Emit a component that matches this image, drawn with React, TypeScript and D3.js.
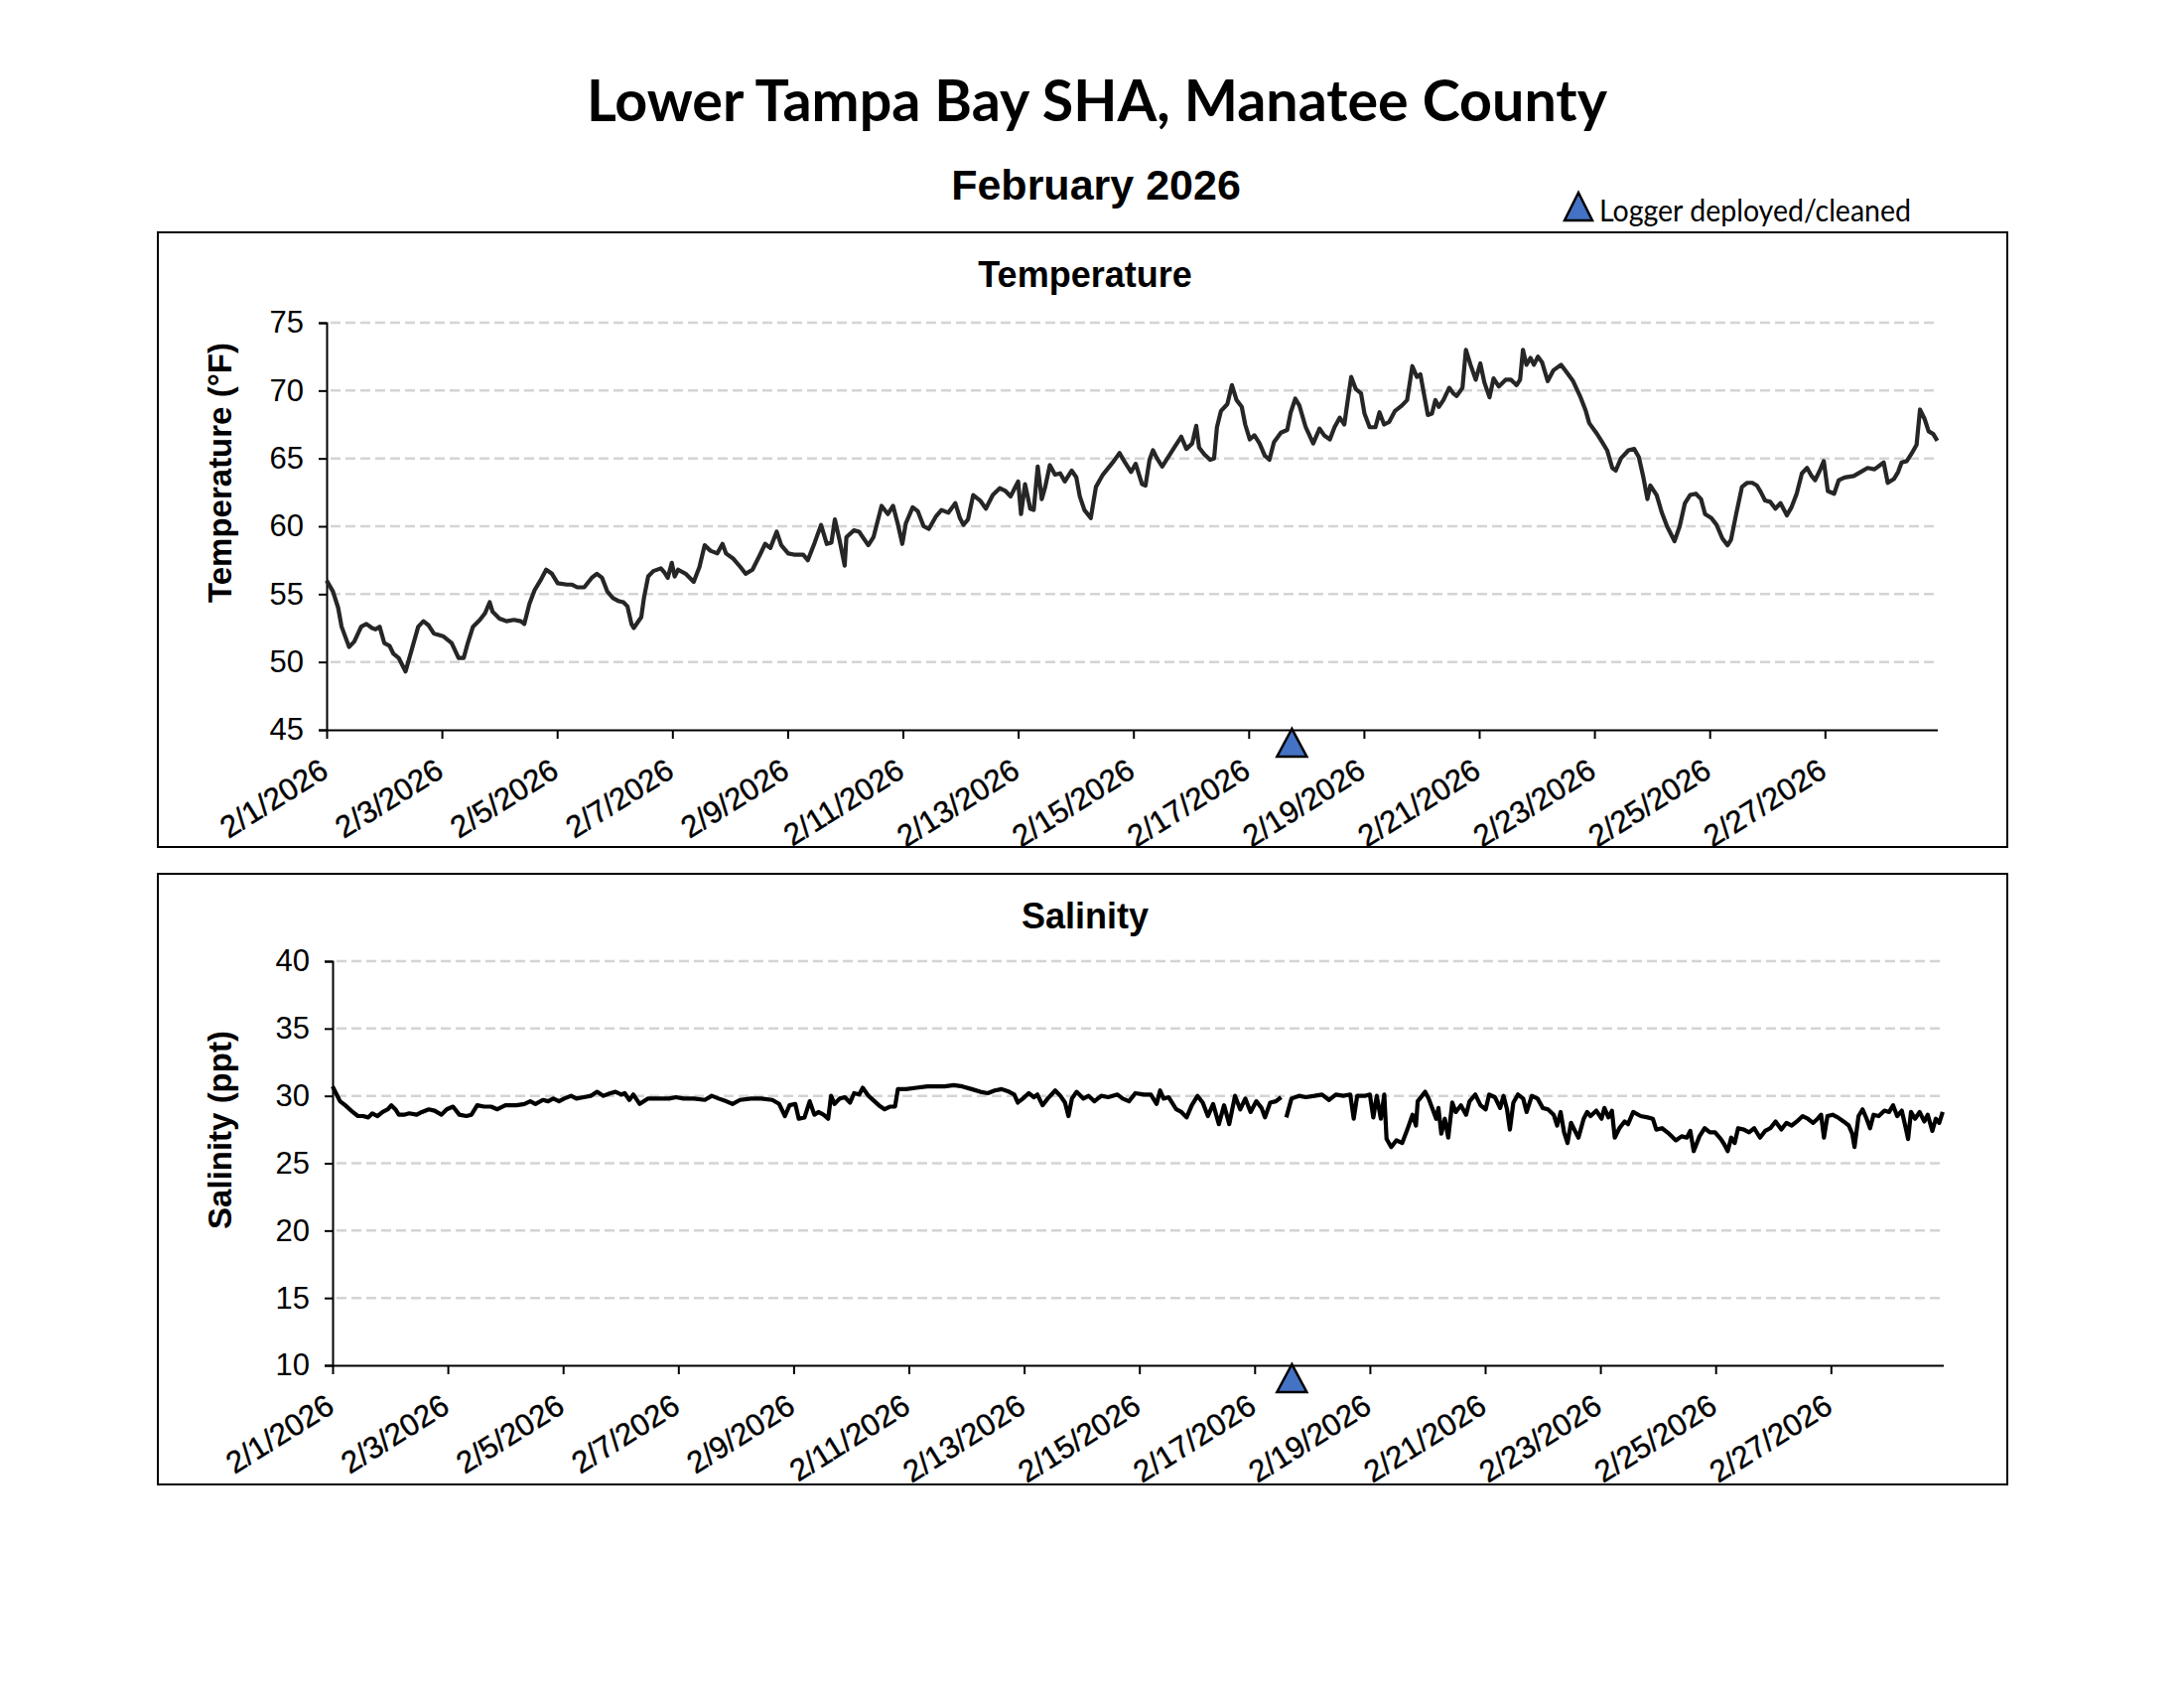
import React, { useEffect, useRef } from "react";
import * as d3 from "d3";

// days since 2/1/2026 00:00
const tempDay = [
	0, 0.11, 0.2, 0.26, 0.39, 0.48, 0.6, 0.69, 0.79, 0.85, 0.92, 1.0, 1.09, 1.16, 1.25, 1.37, 1.49, 1.59, 1.68, 1.77,
	1.86, 2.02, 2.17, 2.29, 2.38, 2.45, 2.54, 2.66, 2.75, 2.83, 2.88, 3.0, 3.12, 3.25, 3.37, 3.43, 3.52, 3.61, 3.71,
	3.81, 3.91, 4.01, 4.17, 4.26, 4.35, 4.47, 4.6, 4.69, 4.78, 4.87, 4.97, 5.06, 5.15, 5.22, 5.29, 5.33, 5.46, 5.51,
	5.58, 5.67, 5.8, 5.86, 5.92, 5.99, 6.04, 6.1, 6.23, 6.37, 6.47, 6.56, 6.66, 6.78, 6.87, 6.93, 7.06, 7.18, 7.27,
	7.39, 7.52, 7.61, 7.7, 7.81, 7.89, 8.01, 8.13, 8.27, 8.35, 8.47, 8.58, 8.68, 8.76, 8.82, 8.9, 8.99, 9.02, 9.15,
	9.24, 9.4, 9.49, 9.63, 9.74, 9.83, 9.91, 9.99, 10.05, 10.17, 10.26, 10.36, 10.45, 10.57, 10.67, 10.79, 10.91,
	10.99, 11.05, 11.13, 11.22, 11.34, 11.44, 11.56, 11.68, 11.78, 11.87, 11.94, 12.0, 12.05, 12.12, 12.21, 12.27,
	12.34, 12.41, 12.47, 12.55, 12.64, 12.73, 12.81, 12.93, 13.01, 13.07, 13.15, 13.26, 13.35, 13.47, 13.66, 13.76,
	13.84, 13.96, 14.04, 14.15, 14.21, 14.28, 14.34, 14.41, 14.5, 14.62, 14.71, 14.83, 14.92, 15.02, 15.09, 15.14,
	15.23, 15.33, 15.4, 15.45, 15.52, 15.63, 15.71, 15.79, 15.88, 15.94, 16.02, 16.1, 16.19, 16.28, 16.36, 16.44,
	16.56, 16.67, 16.73, 16.81, 16.88, 16.99, 17.12, 17.23, 17.31, 17.41, 17.49, 17.58, 17.66, 17.72, 17.78, 17.86,
	17.95, 18.01, 18.1, 18.2, 18.27, 18.35, 18.44, 18.54, 18.66, 18.75, 18.84, 18.92, 18.98, 19.04, 19.11, 19.18,
	19.24, 19.3, 19.38, 19.48, 19.55, 19.61, 19.71, 19.77, 19.85, 19.94, 20.02, 20.09, 20.18, 20.25, 20.34, 20.46,
	20.55, 20.65, 20.71, 20.76, 20.82, 20.89, 20.95, 21.02, 21.09, 21.19, 21.29, 21.42, 21.51, 21.63, 21.75, 21.85,
	21.91, 22.03, 22.12, 22.22, 22.31, 22.37, 22.46, 22.59, 22.69, 22.77, 22.85, 22.92, 22.97, 23.08, 23.17, 23.26,
	23.39, 23.48, 23.57, 23.66, 23.76, 23.85, 23.92, 24.03, 24.12, 24.22, 24.31, 24.37, 24.46, 24.56, 24.65, 24.74,
	24.82, 24.89, 24.96, 25.05, 25.14, 25.23, 25.34, 25.42, 25.51, 25.6, 25.69, 25.77, 25.83, 25.91, 25.98, 26.05,
	26.16, 26.24, 26.34, 26.5, 26.62, 26.74, 26.86, 27.02, 27.09, 27.2, 27.27, 27.33, 27.42, 27.51, 27.59, 27.65,
	27.73, 27.8, 27.88, 27.95,
];
const tempF = [
	56.0, 55.2, 54.0, 52.6, 51.1, 51.5, 52.6, 52.8, 52.5, 52.4, 52.6, 51.4, 51.2, 50.6, 50.3, 49.3, 51.1, 52.6, 53.0,
	52.7, 52.1, 51.9, 51.4, 50.3, 50.3, 51.4, 52.6, 53.1, 53.6, 54.4, 53.7, 53.2, 53.0, 53.1, 53.0, 52.8, 54.3, 55.3,
	56.0, 56.8, 56.5, 55.8, 55.7, 55.7, 55.5, 55.5, 56.2, 56.5, 56.2, 55.2, 54.7, 54.5, 54.4, 54.1, 52.8, 52.5, 53.3,
	54.8, 56.3, 56.7, 56.9, 56.6, 56.2, 57.3, 56.3, 56.8, 56.5, 55.9, 57.0, 58.6, 58.2, 58.0, 58.7, 58.0, 57.6, 57.0,
	56.5, 56.8, 57.9, 58.7, 58.4, 59.6, 58.6, 58.0, 57.9, 57.9, 57.5, 58.8, 60.1, 58.7, 58.8, 60.5, 59.0, 57.1, 59.2,
	59.7, 59.6, 58.6, 59.2, 61.5, 60.9, 61.5, 60.2, 58.7, 60.2, 61.4, 61.1, 60.0, 59.8, 60.7, 61.2, 61.0, 61.7, 60.6,
	60.1, 60.5, 62.3, 61.9, 61.3, 62.3, 62.8, 62.6, 62.2, 62.8, 63.3, 60.9, 63.1, 61.3, 61.2, 64.4, 62.0, 62.9, 64.5,
	63.8, 63.9, 63.3, 64.1, 63.6, 62.2, 61.2, 60.6, 62.9, 63.8, 64.8, 65.4, 64.8, 64.0, 64.6, 63.1, 63.0, 64.9, 65.6,
	65.0, 64.4, 65.2, 65.8, 66.6, 65.7, 66.1, 67.4, 65.8, 65.3, 64.9, 65.0, 67.3, 68.5, 69.0, 70.4, 69.3, 68.8, 67.5,
	66.4, 66.7, 66.1, 65.2, 64.9, 66.2, 66.9, 67.1, 68.4, 69.4, 68.9, 67.3, 66.1, 67.2, 66.7, 66.4, 67.3, 68.0, 67.5,
	69.3, 71.0, 70.1, 69.8, 68.3, 67.3, 67.3, 68.4, 67.5, 67.7, 68.5, 68.9, 69.3, 71.8, 71.0, 71.2, 69.8, 68.2, 68.3,
	69.3, 68.8, 69.3, 70.2, 69.8, 69.6, 70.2, 73.0, 71.9, 70.8, 72.0, 70.6, 69.5, 70.9, 70.3, 70.8, 70.8, 70.4, 70.8,
	73.0, 71.9, 72.4, 71.9, 72.5, 72.1, 70.7, 71.5, 71.9, 71.4, 70.7, 69.6, 68.5, 67.6, 66.9, 66.3, 65.6, 64.3, 64.1,
	65.0, 65.6, 65.7, 65.1, 63.6, 62.0, 63.0, 62.3, 61.0, 60.0, 58.9, 60.0, 61.7, 62.3, 62.4, 62.0, 60.9, 60.6, 60.1,
	59.1, 58.6, 59.0, 60.9, 62.9, 63.2, 63.2, 63.0, 62.5, 61.9, 61.8, 61.3, 61.7, 60.8, 61.4, 62.4, 63.9, 64.3, 63.7,
	63.4, 64.1, 64.8, 62.6, 62.4, 63.4, 63.6, 63.7, 64.0, 64.3, 64.2, 64.7, 63.2, 63.5, 64.0, 64.7, 64.8, 65.4, 66.0,
	68.6, 67.9, 67.0, 66.8, 66.3,
];

const salDay = [
	0, 0.07, 0.13, 0.22, 0.35, 0.44, 0.53, 0.62, 0.69, 0.78, 0.87, 0.96, 1.02, 1.09, 1.15, 1.24, 1.33, 1.46, 1.55,
	1.67, 1.77, 1.89, 1.98, 2.09, 2.2, 2.32, 2.41, 2.51, 2.63, 2.75, 2.86, 3.0, 3.19, 3.33, 3.43, 3.52, 3.65, 3.74,
	3.83, 3.93, 4.02, 4.14, 4.23, 4.36, 4.48, 4.59, 4.7, 4.82, 4.91, 5.01, 5.07, 5.15, 5.22, 5.33, 5.47, 5.65, 5.84,
	5.96, 6.09, 6.27, 6.46, 6.58, 6.7, 6.83, 6.94, 7.07, 7.26, 7.44, 7.63, 7.75, 7.85, 7.93, 8.03, 8.09, 8.19, 8.28,
	8.36, 8.43, 8.52, 8.6, 8.65, 8.71, 8.8, 8.89, 8.98, 9.05, 9.14, 9.2, 9.3, 9.48, 9.58, 9.67, 9.76, 9.81, 9.95,
	10.13, 10.32, 10.5, 10.62, 10.78, 10.93, 11.09, 11.24, 11.37, 11.49, 11.61, 11.74, 11.83, 11.89, 11.98, 12.08,
	12.17, 12.23, 12.32, 12.41, 12.54, 12.63, 12.71, 12.77, 12.83, 12.91, 13.03, 13.12, 13.22, 13.34, 13.46, 13.62,
	13.71, 13.82, 13.93, 14.08, 14.2, 14.3, 14.36, 14.42, 14.51, 14.64, 14.73, 14.82, 14.91, 15.01, 15.1, 15.19,
	15.28, 15.38, 15.47, 15.56, 15.66, 15.75, 15.84, 15.93, 16.03, 16.12, 16.18, 16.27, 16.37, 16.46, 16.5, 16.55,
	16.64, 16.77, 16.89, 17.04, 17.17, 17.29, 17.41, 17.54, 17.66, 17.72, 17.78, 17.91, 18.0, 18.06, 18.12, 18.19,
	18.25, 18.29, 18.37, 18.46, 18.56, 18.65, 18.74, 18.8, 18.83, 18.96, 19.02, 19.09, 19.15, 19.19, 19.24, 19.3,
	19.36, 19.43, 19.49, 19.58, 19.67, 19.73, 19.83, 19.92, 20.01, 20.07, 20.17, 20.26, 20.32, 20.38, 20.43, 20.49,
	20.57, 20.66, 20.72, 20.81, 20.91, 21.0, 21.09, 21.19, 21.25, 21.31, 21.37, 21.43, 21.49, 21.56, 21.62, 21.71,
	21.77, 21.83, 21.93, 22.02, 22.07, 22.14, 22.2, 22.25, 22.33, 22.42, 22.48, 22.57, 22.7, 22.82, 22.91, 22.97,
	23.07, 23.19, 23.31, 23.41, 23.5, 23.56, 23.62, 23.72, 23.81, 23.9, 23.99, 24.09, 24.15, 24.21, 24.27, 24.33,
	24.39, 24.49, 24.58, 24.67, 24.77, 24.86, 24.95, 25.04, 25.14, 25.23, 25.32, 25.41, 25.51, 25.6, 25.69, 25.77,
	25.83, 25.88, 25.94, 26.03, 26.12, 26.22, 26.31, 26.37, 26.41, 26.48, 26.55, 26.62, 26.68, 26.74, 26.83, 26.93,
	27.01, 27.08, 27.15, 27.23, 27.3, 27.34, 27.39, 27.46, 27.54, 27.62, 27.68, 27.76, 27.82, 27.88, 27.94,
];
// null = no reading (logger out of the water)
const salPpt: (number | null)[] = [
	30.7, 30.1, 29.6, 29.3, 28.8, 28.5, 28.5, 28.4, 28.7, 28.5, 28.8, 29.0, 29.3, 29.0, 28.6, 28.6, 28.7, 28.6, 28.8,
	29.0, 28.9, 28.6, 29.0, 29.2, 28.6, 28.5, 28.6, 29.3, 29.2, 29.2, 29.0, 29.3, 29.3, 29.4, 29.6, 29.4, 29.7, 29.6,
	29.8, 29.6, 29.8, 30.0, 29.8, 29.9, 30.0, 30.3, 30.0, 30.2, 30.3, 30.1, 30.2, 29.7, 30.1, 29.4, 29.8, 29.8, 29.8,
	29.9, 29.8, 29.8, 29.7, 30.0, 29.8, 29.6, 29.4, 29.7, 29.8, 29.8, 29.7, 29.4, 28.5, 29.3, 29.4, 28.3, 28.4, 29.6,
	28.6, 28.8, 28.6, 28.3, 30.0, 29.4, 29.8, 29.9, 29.5, 30.2, 30.1, 30.6, 30.0, 29.3, 29.0, 29.2, 29.2, 30.5, 30.5,
	30.6, 30.7, 30.7, 30.7, 30.8, 30.7, 30.5, 30.3, 30.2, 30.4, 30.5, 30.3, 30.1, 29.5, 29.8, 30.2, 29.9, 30.1, 29.3,
	29.8, 30.4, 30.0, 29.5, 28.5, 29.8, 30.3, 29.8, 30.0, 29.6, 30.0, 29.9, 30.1, 29.8, 29.6, 30.2, 30.1, 30.1, 29.4,
	30.4, 29.8, 29.9, 29.0, 28.8, 28.4, 29.3, 30.0, 29.5, 28.5, 29.4, 27.9, 29.3, 27.9, 30.0, 29.0, 29.8, 28.8, 29.6,
	29.1, 28.4, 29.5, 29.6, 29.9, null, 28.4, 29.8, 30.0, 29.9, 30.0, 30.1, 29.7, 30.1, 30.0, 30.1, 28.3, 30.0, 30.0,
	30.1, 28.4, 30.0, 28.3, 30.1, 26.8, 26.2, 26.7, 26.5, 27.5, 28.6, 27.8, 29.6, 30.3, 29.8, 29.0, 28.3, 29.1, 27.2,
	28.3, 26.9, 29.5, 28.8, 29.3, 28.6, 29.6, 30.1, 29.3, 29.0, 30.1, 29.9, 29.1, 30.0, 29.0, 27.5, 29.5, 30.1, 29.8,
	28.8, 30.0, 29.8, 29.1, 29.0, 28.6, 27.8, 28.8, 27.3, 26.5, 28.0, 27.4, 26.9, 28.3, 28.8, 28.5, 28.9, 28.3, 29.1,
	28.4, 28.9, 26.9, 27.6, 28.1, 27.9, 28.8, 28.5, 28.4, 28.3, 27.5, 27.6, 27.2, 26.7, 27.0, 26.9, 27.4, 25.9, 27.0,
	27.6, 27.3, 27.3, 26.8, 26.4, 25.9, 26.9, 26.5, 27.6, 27.5, 27.3, 27.6, 26.9, 27.4, 27.6, 28.1, 27.5, 28.0, 27.8,
	28.1, 28.5, 28.3, 28.0, 28.3, 28.6, 26.9, 28.5, 28.6, 28.4, 28.1, 27.8, 27.2, 26.2, 28.5, 29.0, 28.3, 27.6, 28.6,
	28.5, 28.9, 28.8, 29.3, 28.5, 28.9, 27.6, 26.8, 28.8, 28.3, 28.8, 28.1, 28.6, 27.4, 28.3, 28.0, 28.8,
];

const xTickLabels = [
	"2/1/2026", "2/3/2026", "2/5/2026", "2/7/2026", "2/9/2026", "2/11/2026", "2/13/2026",
	"2/15/2026", "2/17/2026", "2/19/2026", "2/21/2026", "2/23/2026", "2/25/2026", "2/27/2026",
];
const tempTicks = [45, 50, 55, 60, 65, 70, 75];
const salTicks = [10, 15, 20, 25, 30, 35, 40];
const loggerDay = 16.75; // logger deployed/cleaned 2/17 ~18:00
const lastDay = 27.95; // last reading, 2/28 ~23:00

const ARIAL = "'Liberation Sans', Arial, sans-serif";
const CALIBRI = "Lato, 'Open Sans', sans-serif";
const BLUE = "#4472C4";
const PX_PER_DAY = 58.05;

const App: React.FC = () => {
	const svgRef = useRef<SVGSVGElement>(null);

	useEffect(() => {
		if (!svgRef.current) return;
		const svg = d3.select(svgRef.current);
		svg.selectAll("*").remove();

		svg.append("rect").attr("width", 2200).attr("height", 1700).attr("fill", "#fff");

		// page titles
		svg.append("text")
			.attr("x", 1105).attr("y", 122)
			.attr("text-anchor", "middle")
			.attr("font-family", CALIBRI).attr("font-weight", 700).attr("font-size", 58)
			.attr("textLength", 1028).attr("lengthAdjust", "spacingAndGlyphs")
			.text("Lower Tampa Bay SHA, Manatee County");

		svg.append("text")
			.attr("x", 1104).attr("y", 201)
			.attr("text-anchor", "middle")
			.attr("font-family", ARIAL).attr("font-weight", 700).attr("font-size", 43)
			.text("February 2026");

		// legend
		svg.append("path")
			.attr("d", "M1590,194 L1576,222 L1604,222 Z")
			.attr("fill", BLUE).attr("stroke", "#000").attr("stroke-width", 2.5);
		svg.append("text")
			.attr("x", 1611).attr("y", 223)
			.attr("font-family", CALIBRI).attr("font-size", 31)
			.attr("textLength", 314).attr("lengthAdjust", "spacingAndGlyphs")
			.text("Logger deployed/cleaned");

		type Panel = {
			box: [number, number, number, number];
			x0: number; yBottom: number; yTop: number;
			domain: [number, number]; ticks: number[];
			title: string; titleY: number; axisTitle: string; axisTitleY: number;
			days: number[]; values: (number | null)[]; color: string;
		};

		const panels: Panel[] = [
			{
				box: [159, 234, 2022, 853], x0: 329, yBottom: 735, yTop: 325,
				domain: [45, 75], ticks: tempTicks, title: "Temperature", titleY: 289,
				axisTitle: "Temperature (°F)", axisTitleY: 476,
				days: tempDay, values: tempF, color: "#262626",
			},
			{
				box: [159, 880, 2022, 1495], x0: 335, yBottom: 1375, yTop: 968,
				domain: [10, 40], ticks: salTicks, title: "Salinity", titleY: 935,
				axisTitle: "Salinity (ppt)", axisTitleY: 1138,
				days: salDay, values: salPpt, color: "#000",
			},
		];

		// the logger marker is placed at the same page x in both panels
		const markerX = d3.scaleLinear().domain([0, lastDay])
			.range([panels[0].x0, panels[0].x0 + lastDay * PX_PER_DAY])(loggerDay);

		panels.forEach((p) => {
			const [bx0, by0, bx1, by1] = p.box;
			svg.append("rect")
				.attr("x", bx0).attr("y", by0).attr("width", bx1 - bx0).attr("height", by1 - by0)
				.attr("fill", "none").attr("stroke", "#000").attr("stroke-width", 2);

			const x1 = p.x0 + lastDay * PX_PER_DAY;
			const x = d3.scaleLinear().domain([0, lastDay]).range([p.x0, x1]);
			const y = d3.scaleLinear().domain(p.domain).range([p.yBottom, p.yTop]);

			svg.append("text")
				.attr("x", 1093).attr("y", p.titleY)
				.attr("text-anchor", "middle")
				.attr("font-family", ARIAL).attr("font-weight", 700).attr("font-size", 36)
				.text(p.title);

			// gridlines
			svg.append("g")
				.selectAll("line")
				.data(p.ticks.slice(1))
				.join("line")
				.attr("x1", p.x0 + 4).attr("x2", x1)
				.attr("y1", (d) => y(d)).attr("y2", (d) => y(d))
				.attr("stroke", "#d4d4d4").attr("stroke-width", 2.5)
				.attr("stroke-dasharray", "10,5");

			// y axis
			const yAxis = svg.append("g")
				.attr("transform", `translate(${p.x0},0)`)
				.call(d3.axisLeft(y).tickValues(p.ticks).tickSize(8).tickPadding(15).tickFormat((d) => String(d)));
			yAxis.select(".domain").attr("stroke-width", 2);
			yAxis.selectAll(".tick line").attr("stroke-width", 2);
			yAxis.selectAll("text")
				.attr("font-family", ARIAL).attr("font-size", 31).attr("fill", "#000");

			// x axis
			const tickDays = xTickLabels.map((s) => +s.split("/")[1] - 1);
			const xAxis = svg.append("g")
				.attr("transform", `translate(0,${p.yBottom})`)
				.call(
					d3.axisBottom(x)
						.tickValues(tickDays)
						.tickSize(9)
						.tickSizeOuter(0)
						.tickFormat((_, i) => xTickLabels[i])
				);
			xAxis.select(".domain").attr("stroke-width", 2);
			xAxis.selectAll(".tick line").attr("stroke-width", 2);
			xAxis.selectAll("text")
				.attr("font-family", ARIAL).attr("font-size", 31).attr("fill", "#000")
				.attr("stroke", "#000").attr("stroke-width", 0.4)
				.attr("text-anchor", "end")
				.attr("dy", null)
				.attr("y", 0)
				.attr("transform", "translate(3,46) rotate(-32)");

			// axis title
			svg.append("text")
				.attr("transform", `translate(233,${p.axisTitleY}) rotate(-90)`)
				.attr("text-anchor", "middle")
				.attr("font-family", ARIAL).attr("font-weight", 700).attr("font-size", 33)
				.text(p.axisTitle);

			// data line
			const pts = p.days.map((d, i) => [d, p.values[i]] as [number, number | null]);
			const line = d3.line<[number, number | null]>()
				.defined((d) => d[1] !== null)
				.x((d) => x(d[0]))
				.y((d) => y(d[1] as number));
			svg.append("path")
				.datum(pts)
				.attr("d", line)
				.attr("fill", "none")
				.attr("stroke", p.color)
				.attr("stroke-width", 4.2)
				.attr("stroke-linejoin", "round");

			// logger marker
			const my = p.yBottom - 1;
			svg.append("path")
				.attr("d", `M${markerX},${my} L${markerX - 15},${my + 28} L${markerX + 15},${my + 28} Z`)
				.attr("fill", BLUE).attr("stroke", "#000").attr("stroke-width", 2.5);
		});
	}, []);

	return (
		<svg
			ref={svgRef}
			width={2200}
			height={1700}
			style={{ position: "absolute", left: 0, top: 0, display: "block" }}
		/>
	);
};

export default App;
